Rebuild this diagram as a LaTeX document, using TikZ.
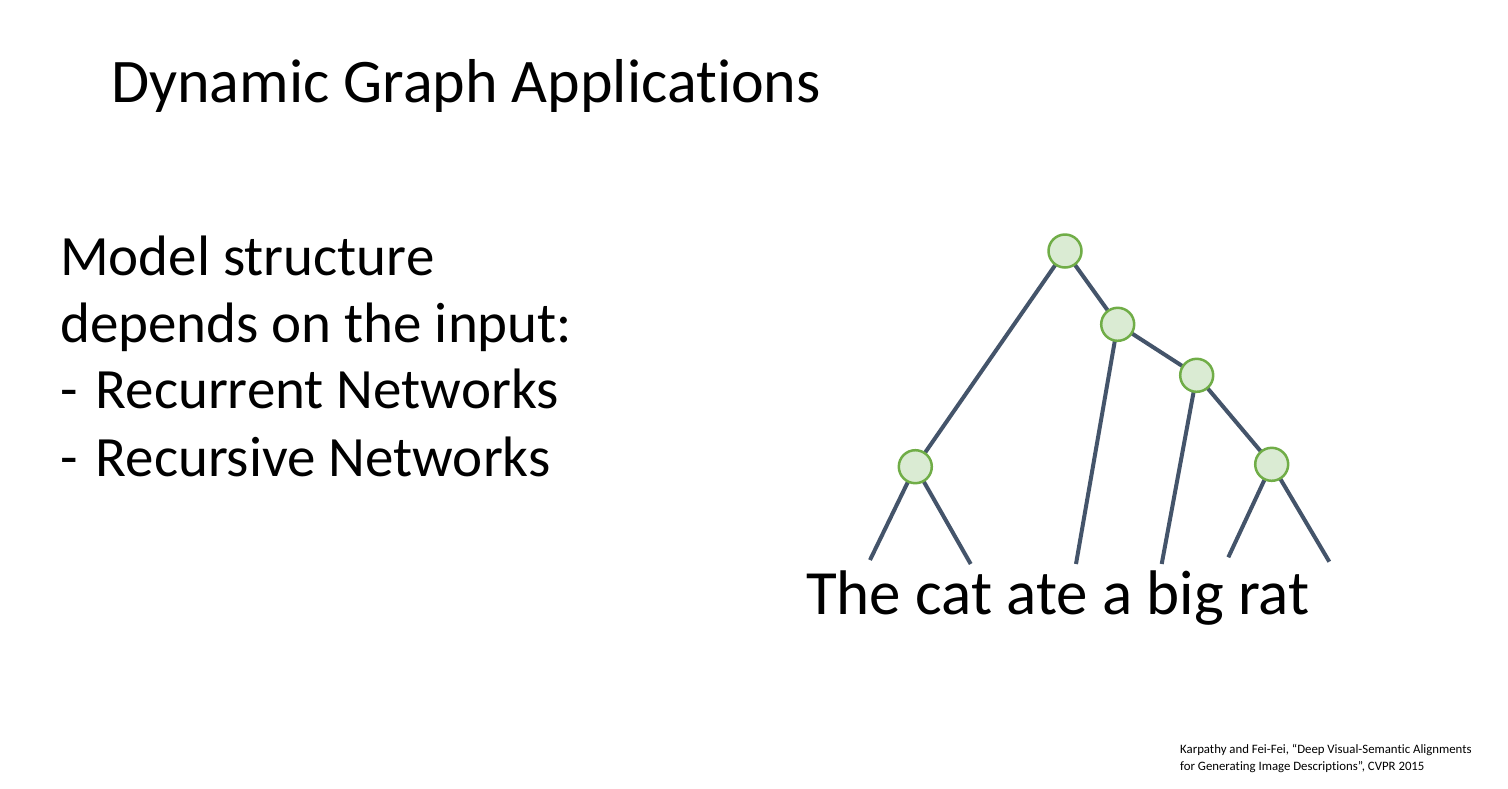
\documentclass[tikz,border=0pt]{standalone}
\usepackage{fontspec}
\setmainfont[Ligatures=NoCommon]{Carlito}
\usetikzlibrary{backgrounds}
\definecolor{edgec}{HTML}{44546A}
\definecolor{nodefill}{HTML}{DAEBD3}
\definecolor{nodeline}{HTML}{70AD47}
\tikzset{
  treenode/.style={circle, draw=nodeline, fill=nodefill, line width=2.5pt, minimum size=33pt, inner sep=0pt},
  edge/.style={draw=edgec, line width=4pt},
  txt/.style={anchor=base west, inner sep=0pt, text=black}
}
\begin{document}
\begin{tikzpicture}[x=1pt, y=-1pt]
\useasboundingbox (0,0) rectangle (1508,788);
% title
\node[txt, font=\fontsize{62}{70}\selectfont] (title) at (111,102) {Dynamic Graph Applications};
% body
\node[txt, font=\fontsize{57}{66}\selectfont] (b1) at (60,275) {Model structure};
\node[txt, font=\fontsize{57}{66}\selectfont] (b2) at (60,342.5) {depends on the input:};
\node[txt, font=\fontsize{57}{66}\selectfont] (b3) at (60,408.5) {-\hspace{18pt}Recurrent Networks};
\node[txt, font=\fontsize{57}{66}\selectfont] (b4) at (60,476) {-\hspace{18pt}Recursive Networks};
% tree
\node[treenode] (root) at (1065,251) {};
\node[treenode] (n2) at (1117.7,324.3) {};
\node[treenode] (n3) at (1196.7,375.3) {};
\node[treenode] (lft) at (915.3,466.7) {};
\node[treenode] (rgt) at (1271.7,464.3) {};
\coordinate (wThe) at (870,560);
\coordinate (wcat) at (970.7,564);
\coordinate (wate) at (1076,564);
\coordinate (wa) at (1161.7,564);
\coordinate (wbig) at (1228.3,557.3);
\coordinate (wrat) at (1329.3,561.7);
\begin{scope}[on background layer]
\fill[white] (0,0) rectangle (1508,788);
\draw[edge] (root.center) -- (lft.center);
\draw[edge] (root.center) -- (n2.center);
\draw[edge] (n2.center) -- (n3.center);
\draw[edge] (n3.center) -- (rgt.center);
\draw[edge] (lft.center) -- (wThe);
\draw[edge] (lft.center) -- (wcat);
\draw[edge] (n2.center) -- (wate);
\draw[edge] (n3.center) -- (wa);
\draw[edge] (rgt.center) -- (wbig);
\draw[edge] (rgt.center) -- (wrat);
\end{scope}
\node[txt, font=\fontsize{63}{70}\selectfont] (sent) at (806,614) {The cat ate a big rat};
% citation
\node[txt, font=\fontsize{12.8}{17}\selectfont] (c1) at (1180,753) {Karpathy and Fei-Fei, “Deep Visual-Semantic Alignments};
\node[txt, font=\fontsize{12.8}{17}\selectfont] (c2) at (1180,770) {for Generating Image Descriptions”, CVPR 2015};
\end{tikzpicture}
\end{document}
